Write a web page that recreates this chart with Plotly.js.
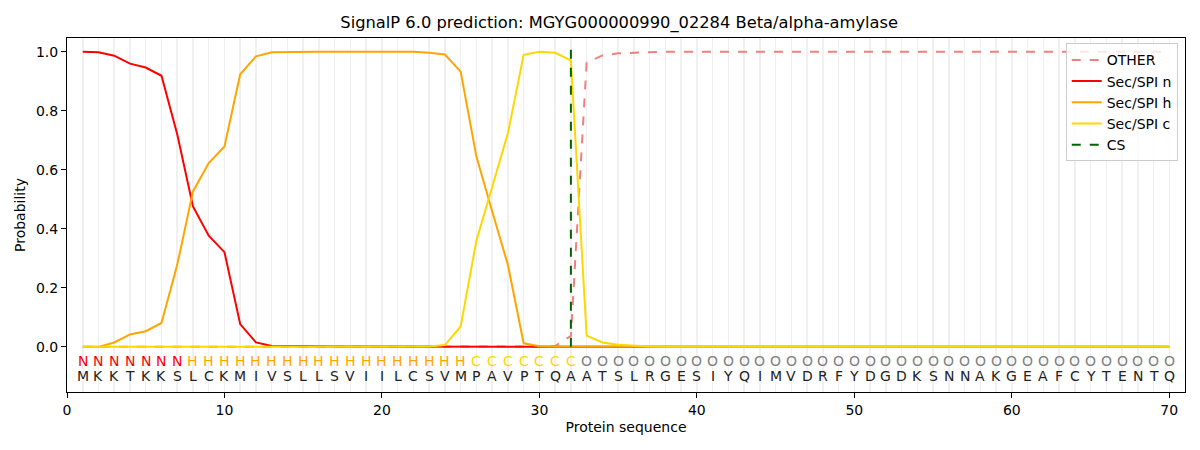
<!DOCTYPE html>
<html>
<head>
<meta charset="utf-8">
<script src="https://cdn.plot.ly/plotly-3.0.1.min.js"></script>
<style>html,body{margin:0;padding:0;background:#fff;}#chart{width:1200px;height:450px;}</style>
</head>
<body>
<div id="chart"></div>
<script>
const sequence = "MKKTKKSLCKMIVSLLSVIILCSVMPAVPTQAATSLRGESIYQIMVDRFYDGDKSNNAKGEAFCYTENTQ".split("");
const regionLabels = "NNNNNNNHHHHHHHHHHHHHHHHHHCCCCCCCOOOOOOOOOOOOOOOOOOOOOOOOOOOOOOOOOOOOOO".split("");
const positions = sequence.map((_, i) => i + 1);
const csPos = 32;

const other = [0,0,0,0,0,0,0,0,0,0, 0,0,0,0,0,0,0,0,0,0, 0,0,0,0,0,0,0,0,0,0.001, 0.003,0.037,0.964,0.988,0.995,0.998,0.999,1,1,1, 1,1,1,1,1,1,1,1,1,1, 1,1,1,1,1,1,1,1,1,1, 1,1,1,1,1,1,1,1,1,1];
const secN = [1.0,0.999,0.987,0.960,0.947,0.919,0.721,0.476,0.377,0.321, 0.077,0.015,0.003,0.002,0.001,0.001,0.001,0.001,0.001,0.001, 0.001,0.002,0.002,0.002,0.002,0.002,0.002,0.002,0.002,0.001, 0.001,0.001,0,0,0,0,0,0,0,0, 0,0,0,0,0,0,0,0,0,0, 0,0,0,0,0,0,0,0,0,0, 0,0,0,0,0,0,0,0,0,0];
const secH = [0,0,0.015,0.042,0.053,0.081,0.278,0.527,0.623,0.679, 0.924,0.985,0.999,1,1,1,1,1,1,1, 1,1,0.997,0.991,0.933,0.645,0.46,0.278,0.012,0.002, 0.001,0.001,0,0,0,0,0,0,0,0, 0,0,0,0,0,0,0,0,0,0, 0,0,0,0,0,0,0,0,0,0, 0,0,0,0,0,0,0,0,0,0];
const secC = [0,0,0,0,0,0,0,0,0,0, 0,0,0,0,0,0,0,0,0,0, 0,0,0.001,0.006,0.069,0.360,0.545,0.724,0.990,1.0, 0.997,0.971,0.038,0.015,0.007,0.003,0.001,0,0,0, 0,0,0,0,0,0,0,0,0,0, 0,0,0,0,0,0,0,0,0,0, 0,0,0,0,0,0,0,0,0,0];

const labelColors = {N: "#ff0000", H: "#ffa500", C: "#ffd700", O: "#808080"};

const traces = [
  {x: positions, y: other, name: "OTHER", mode: "lines", line: {color: "#f08080", width: 2, dash: "dash"}},
  {x: positions, y: secN, name: "Sec/SPI n", mode: "lines", line: {color: "#ff0000", width: 2}},
  {x: positions, y: secH, name: "Sec/SPI h", mode: "lines", line: {color: "#ffa500", width: 2}},
  {x: positions, y: secC, name: "Sec/SPI c", mode: "lines", line: {color: "#ffd700", width: 2}},
  {x: [csPos, csPos], y: [0, 1.035], name: "CS", mode: "lines", line: {color: "#006400", width: 2, dash: "dash"}}
];

const annotations = [];
positions.forEach((p, i) => {
  annotations.push({x: p, y: -0.047, xref: "x", yref: "y", text: regionLabels[i], showarrow: false,
    font: {family: "DejaVu Sans", size: 14, color: labelColors[regionLabels[i]]}});
  annotations.push({x: p, y: -0.098, xref: "x", yref: "y", text: sequence[i], showarrow: false,
    font: {family: "DejaVu Sans", size: 14, color: "#222"}});
});

const layout = {
  width: 1200, height: 450,
  margin: {l: 67, r: 15, t: 38, b: 58},
  paper_bgcolor: "#fff", plot_bgcolor: "#fff",
  font: {family: "DejaVu Sans", size: 14, color: "#000"},
  title: {text: "SignalP 6.0 prediction: MGYG000000990_02284 Beta/alpha-amylase", font: {size: 16.3}, x: 0.516, xanchor: "center", y: 0.95, yanchor: "middle"},
  xaxis: {range: [0, 71], tickvals: [0,10,20,30,40,50,60,70], ticks: "outside", ticklen: 5, tickcolor: "#000",
    showline: true, linecolor: "#000", linewidth: 1, mirror: true, zeroline: false,
    showgrid: false,
    minor: {dtick: 1, tick0: 0, showgrid: true, gridcolor: "#f0f0f0", gridwidth: 1.5, ticks: ""},
    title: {text: "Protein sequence", font: {size: 14}, standoff: 5}},
  yaxis: {range: [-0.153, 1.047], tickvals: [0,0.2,0.4,0.6,0.8,1.0], ticktext: ["0.0","0.2","0.4","0.6","0.8","1.0"],
    ticks: "outside", ticklen: 5, tickcolor: "#000", showline: true, linecolor: "#000", linewidth: 1, mirror: true,
    zeroline: false, showgrid: false, title: {text: "Probability", font: {size: 14}, standoff: 7}},
  legend: {x: 0.9935, y: 0.985, xanchor: "right", yanchor: "top", bgcolor: "rgba(255,255,255,0.8)",
    bordercolor: "#cccccc", borderwidth: 1, font: {size: 14}, tracegroupgap: 0},
  showlegend: true,
  annotations: annotations
};

Plotly.newPlot("chart", traces, layout, {displayModeBar: false, staticPlot: true});
</script>
</body>
</html>
